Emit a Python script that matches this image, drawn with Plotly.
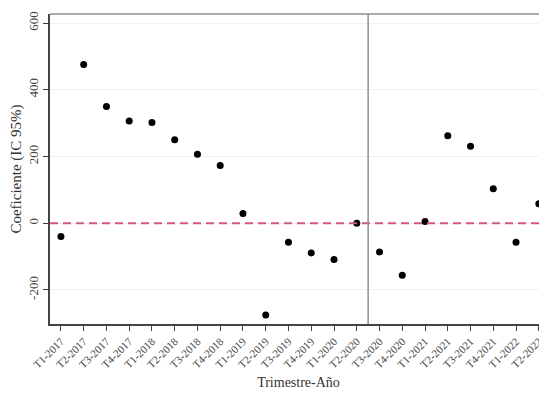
import plotly.graph_objects as go

categories = ["T1-2017", "T2-2017", "T3-2017", "T4-2017", "T1-2018", "T2-2018", "T3-2018", "T4-2018",
              "T1-2019", "T2-2019", "T3-2019", "T4-2019", "T1-2020", "T2-2020", "T3-2020", "T4-2020",
              "T1-2021", "T2-2021", "T3-2021", "T4-2021", "T1-2022", "T2-2022"]
coeficientes = [-40, 476, 350, 306, 302, 250, 207, 173,
                29, -275, -57, -89, -109, 0, -86, -156,
                5, 262, 231, 103, -57, 58]
y_ticks = [-200, 0, 200, 400, 600]
break_position = 13.5  # between T2-2020 and T3-2020

FONT = "Liberation Serif"

fig = go.Figure()
fig.add_trace(go.Scatter(
    x=list(range(len(categories))), y=coeficientes, mode="markers",
    marker=dict(color="black", size=7), showlegend=False, hoverinfo="y"))

fig.add_shape(type="line", xref="paper", yref="y", x0=0, x1=1, y0=0, y1=0,
              line=dict(color="#d4587a", width=2, dash="8px,5px"), layer="above")
fig.add_shape(type="line", xref="x", yref="paper", x0=break_position, x1=break_position, y0=0, y1=1,
              line=dict(color="#8f8f8f", width=1.5))
fig.add_shape(type="line", xref="paper", yref="paper", x0=0, x1=1, y0=1, y1=1,
              line=dict(color="#8f8f8f", width=1.5))

fig.update_layout(
    width=539, height=388,
    margin=dict(l=42, r=0, t=6, b=72),
    paper_bgcolor="white", plot_bgcolor="white",
    font=dict(family=FONT, color="#333"),
    xaxis=dict(
        tickmode="array", tickvals=list(range(len(categories))), ticktext=categories,
        tickangle=-45, tickfont=dict(size=11, color="#444"),
        range=[-0.48, 21.36], showgrid=False, zeroline=False, automargin=False,
        showline=True, linecolor="#444", linewidth=1.5,
        ticks="outside", ticklen=5, tickcolor="#444",
        title=dict(text="Trimestre-Año", font=dict(size=14, color="#333"), standoff=8),
    ),
    yaxis=dict(
        tickmode="array", tickvals=y_ticks, ticktext=[str(v) for v in y_ticks],
        tickangle=-90, tickfont=dict(size=13, color="#444"),
        range=[-302, 627], showgrid=True, gridcolor="#f0f0f0", gridwidth=1, zeroline=False,
        automargin=False,
        showline=True, linecolor="#444", linewidth=1.5,
        ticks="outside", ticklen=5, tickcolor="#444",
        title=dict(text="Coeficiente (IC 95%)", font=dict(size=15, color="#333"), standoff=6),
    ),
)

fig.write_html("out.html")
